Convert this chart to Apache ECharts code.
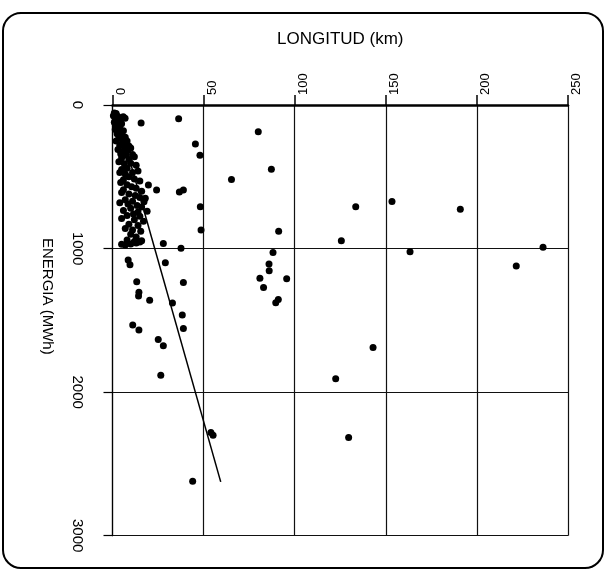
<!DOCTYPE html>
<html><head><meta charset="utf-8">
<script src="https://cdn.jsdelivr.net/npm/echarts@6/dist/echarts.min.js"></script>
<style>html,body{margin:0;padding:0;background:#fff;}#c{width:614px;height:572px;}</style>
</head><body><div id="c"></div>
<script>
// Longitud (km) vs Energia (MWh)
var clusterPoints = [
 [1,55],[2,60],[0.5,75],[1.5,90],[3,80],[5.9,82],[6.9,93],[2.5,105],[1,120],[4,115],[2,140],[5,130],[3,150],
 [1.5,170],[4,165],[6,180],[2.5,200],[5,210],[3.5,230],[7,225],[2,250],[5.5,260],[8,250],[4,280],[6.5,290],[9,285],
 [3,310],[6,320],[8.5,315],[10,300],[4.5,340],[7.5,350],[11,345],[5,370],[9,380],[12,360],[3.5,395],[6.5,410],[10,405],[13,420],[8,440],[5,450],
 [4,470],[7,480],[11,470],[14,460],[9,500],[6,520],[12,515],[15,530],[4.5,540],[8,555],[10.5,570],[13,580],[6,590],[16,600],
 [5,610],[9,620],[12.5,630],[15,645],[7,660],[11,670],[18,650],[17.3,674],[4,680],[8.5,690],[13.5,700],[16,710],[10,720],[6,735],[14,745],[19,740],[11.5,760],
 [8,770],[15,775],[5,790],[12,800],[17,810],[9,830],[14,840],[7,860],[11,870],[15.5,880],[10,900],[13,920],[8,940],[12,950],[16,945],
 [5,970],[7,975],[10,968],[13,962],[15,955]
];
var nearLinePoints = [
 [27.9,964],[37.6,997],[8.6,1080],[9.6,1112],[29,1099],[13.3,1232],[38.9,1236],[14.5,1305],[14.3,1330],[20.4,1360],
 [32.9,1380],[38.3,1463],[38.9,1556],[11.1,1533],[14.5,1568],[25.1,1633],[27.9,1677],[26.5,1882],[54,2282],[55.2,2300],[44,2620]
];
var outlierPoints = [
 [15.7,125],[36.3,95],[45.5,272],[48,350],[65.3,519],[19.7,558],[24.2,592],[36.7,606],[38.9,592],[48.2,709],[48.6,870],
 [80,186],[87.2,448],[133.5,709],[153.4,672],[190.9,727],[91.2,879],[125.6,945],[88.1,1027],[163.3,1022],[85.9,1108],
 [86,1155],[80.9,1206],[95.6,1210],[82.9,1271],[91,1355],[89.6,1378],[236.3,990],[221.6,1122],[143,1689],[122.5,1907],[129.6,2316]
];
var trendLine = [[2,50],[59.4,2625]];
var xTicks = [0,50,100,150,200,250];
var yTicks = [0,1000,2000,3000];
var xTitle = 'LONGITUD (km)';
var yTitle = 'ENERGIA (MWh)';

var allPoints = clusterPoints.concat(nearLinePoints, outlierPoints);
var FONT = '"Liberation Sans", Arial, sans-serif';
var chart = echarts.init(document.getElementById('c'), null, {renderer:'canvas'});
chart.setOption({
  animation:false,
  backgroundColor:'#fff',
  graphic:[{type:'rect', shape:{x:3, y:13, width:600, height:555, r:18}, style:{fill:'none', stroke:'#000', lineWidth:2}, z:-1}],
  grid:{left:112.5, right:46, top:105, bottom:36.3},
  xAxis:{type:'value', position:'top', min:xTicks[0], max:xTicks[xTicks.length-1], interval:50,
    name:xTitle, nameLocation:'middle', nameGap:57,
    nameTextStyle:{fontFamily:FONT, fontSize:17, color:'#000'},
    axisLine:{show:true, onZero:false, lineStyle:{color:'#000', width:2.5}},
    axisTick:{show:true, length:10, lineStyle:{color:'#000', width:1.5}},
    axisLabel:{rotate:-90, margin:10, fontFamily:FONT, fontSize:13, color:'#000', verticalAlign:'top', lineHeight:17,
      formatter:function(v){return String(v);}},
    splitLine:{show:true, lineStyle:{color:'#111', width:1.2}}
  },
  yAxis:{type:'value', inverse:true, min:yTicks[0], max:yTicks[yTicks.length-1], interval:1000,
    name:yTitle, nameLocation:'middle', nameGap:58, nameRotate:-90,
    nameTextStyle:{fontFamily:FONT, fontSize:15, color:'#000', padding:[0,48,0,0]},
    axisLine:{show:true, onZero:false, lineStyle:{color:'#000', width:1.2}},
    axisTick:{show:true, length:9, lineStyle:{color:'#000', width:1.2}},
    axisLabel:{rotate:-90, margin:28, fontFamily:FONT, fontSize:15, color:'#000',
      formatter:function(v){return String(v);}},
    splitLine:{show:true, lineStyle:{color:'#111', width:1.2}}
  },
  series:[
    {type:'line', data:trendLine, showSymbol:false, symbol:'none', lineStyle:{color:'#000', width:1.5}, z:3},
    {type:'scatter', data:allPoints, symbol:'circle', symbolSize:7, itemStyle:{color:'#000', opacity:1}, z:4}
  ]
});
</script></body></html>
